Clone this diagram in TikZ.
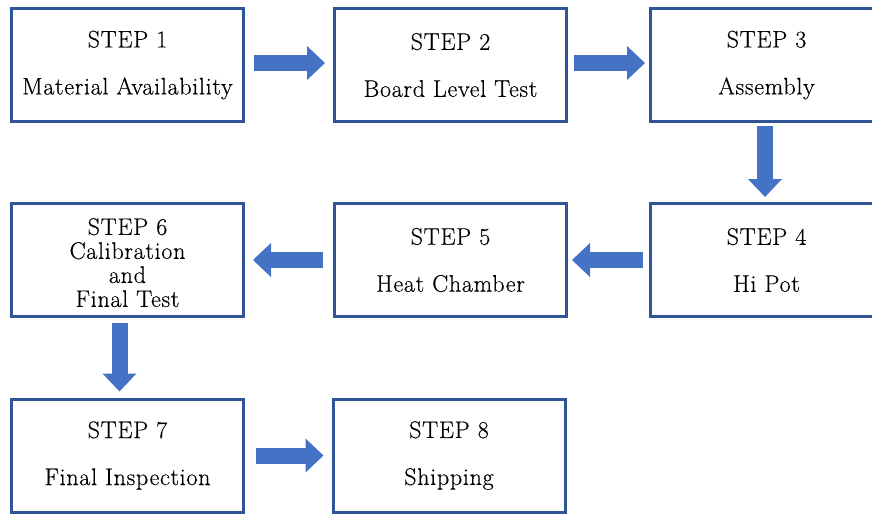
\documentclass[tikz,border=0pt]{standalone}
\usepackage{fontspec}
\newfontfamily\stepfont{Latin Modern Roman}[LetterSpace=3,FakeBold=0.4]
\usetikzlibrary{arrows.meta}
\definecolor{boxblue}{HTML}{2F5597}
\definecolor{arrowblue}{HTML}{4472C4}
\tikzset{
  stepbox/.style={draw=boxblue,line width=3pt,fill=white,minimum width=232pt,
    minimum height=113pt,align=center,inner sep=0pt,
    font=\stepfont\fontsize{24}{47}\selectfont},
  bigarrow/.style={draw=arrowblue,line width=16pt,
    -{Triangle[length=18pt,width=34pt,line width=0pt,fill=arrowblue]}}
}
\begin{document}
\begin{tikzpicture}[x=1pt,y=-1pt]
  \useasboundingbox (0,0) rectangle (872,515);

  \node[stepbox] (s1) at (127.5,65) {STEP 1\\Material Availability};
  \node[stepbox] (s2) at (450.5,65) {STEP 2\\Board Level Test};
  \node[stepbox] (s3) at (766.5,65) {STEP 3\\Assembly};
  \node[stepbox] (s4) at (766.5,260) {STEP 4\\Hi Pot};
  \node[stepbox] (s5) at (450.5,260) {STEP 5\\Heat Chamber};
  \node[stepbox,font=\stepfont\fontsize{24}{24}\selectfont] (s6) at (127.5,260)
    {\rule{0pt}{22pt}STEP 6\\Calibration\\and\\Final Test};
  \node[stepbox] (s7) at (127.5,455.5) {STEP 7\\Final Inspection};
  \node[stepbox] (s8) at (449,455.5) {STEP 8\\Shipping};

  % flow between the steps
  \draw[bigarrow] ([xshift=9pt,yshift=2pt]s1.east) -- ([xshift=-8pt,yshift=2pt]s2.west);
  \draw[bigarrow] ([xshift=6pt,yshift=2pt]s2.east) -- ([xshift=-4pt,yshift=2pt]s3.west);
  \draw[bigarrow] ([xshift=-1.5pt,yshift=-3pt]s3.south) -- ([xshift=-1.5pt,yshift=5pt]s4.north);
  \draw[bigarrow] ([xshift=-6pt]s4.west) -- ([xshift=4pt]s5.east);
  \draw[bigarrow] ([xshift=-10pt]s5.west) -- ([xshift=8pt]s6.east);
  \draw[bigarrow] ([xshift=-8pt,yshift=-5pt]s6.south) -- ([xshift=-8pt,yshift=6pt]s7.north);
  \draw[bigarrow] ([xshift=11pt]s7.east) -- ([xshift=-8pt]s8.west);
\end{tikzpicture}
\end{document}
